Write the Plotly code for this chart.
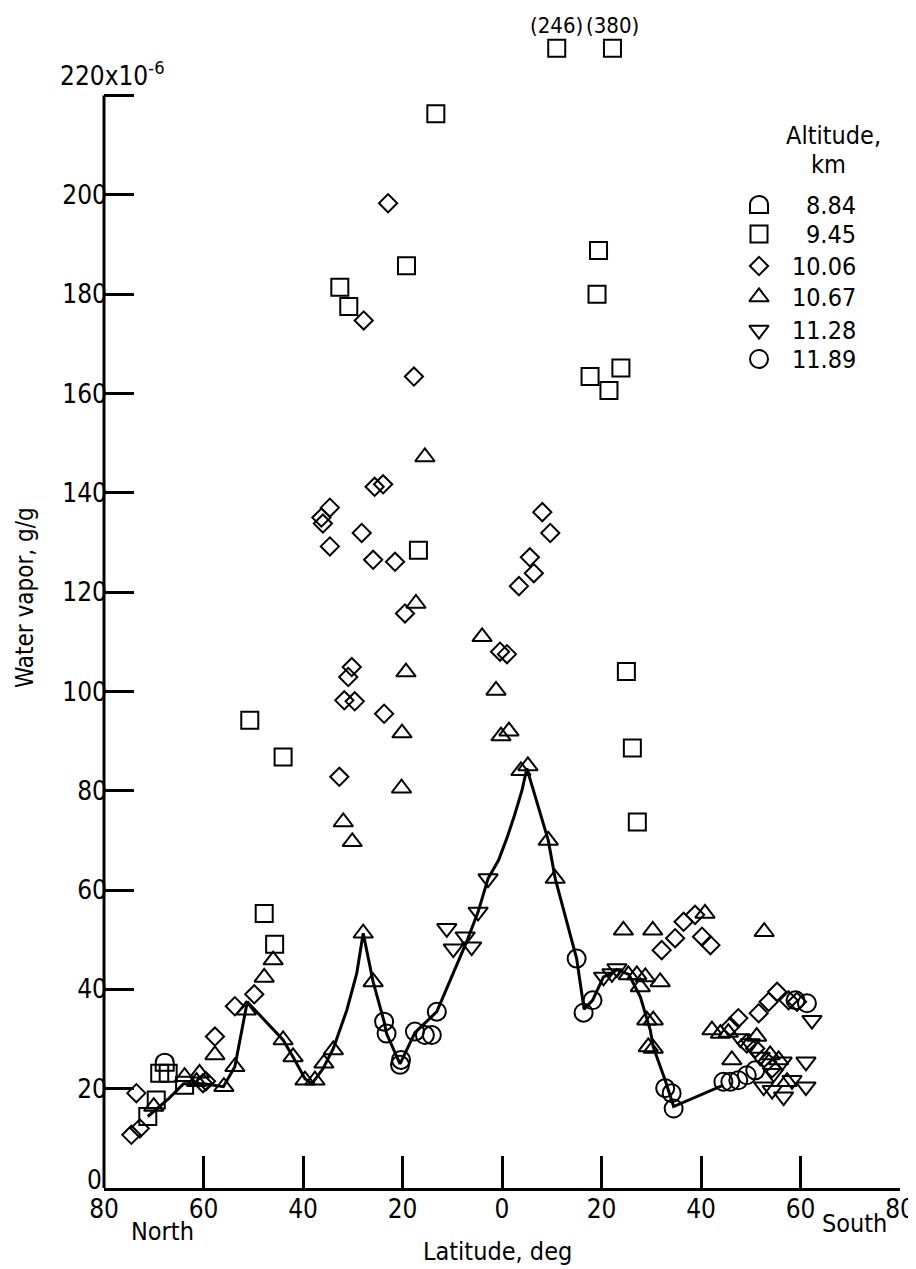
import plotly.graph_objects as go

# ---------------- data (latitude: negative = North, positive = South) ----------------
D884_LAT = [-67.8]
D884_VAL = [25.2]

S945_LAT = [-71.2, -69.5, -68.8, -67.1, -63.8, -47.8, -45.7, -50.7, -44.0, -32.6, -30.8, -19.2,
            -16.8, -13.3, 17.7, 19.1, 19.4, 21.5, 23.9, 25.0, 26.2, 27.2]
S945_VAL = [14.4, 17.7, 23.1, 23.1, 20.7, 55.3, 49.1, 94.2, 86.8, 181.4, 177.5, 185.7,
            128.4, 216.3, 163.4, 180.0, 188.8, 160.6, 165.1, 104.0, 88.6, 73.7]
# off-scale 9.45 km points
OFF_LAT = [11.0, 22.2]
OFF_VAL = [246, 380]
OFF_LABELS = ["(246)", "(380)"]

D1006_LAT = [-74.5, -72.8, -73.5, -60.1, -59.5, -57.7, -53.7, -49.8, -36.3, -36.0, -34.6, -34.6,
             -32.7, -31.7, -30.9, -30.2, -29.6, -28.2, -27.8, -25.9, -25.6, -23.9, -23.7, -22.9,
             -21.5, -19.5, -17.7, -0.4, 1.0, 3.4, 5.6, 6.4, 8.1, 9.7, 32.1, 34.8, 36.5, 38.8,
             40.2, 41.9, 45.9, 47.5, 49.2, 50.9, 51.6, 53.3, 53.6, 54.3, 55.3, 57.6, 59.3]
D1006_VAL = [10.7, 12.0, 19.1, 21.1, 21.5, 30.5, 36.6, 39.0, 135.0, 133.8, 137.0, 129.2,
             82.8, 98.2, 102.9, 104.9, 98.0, 131.9, 174.7, 126.5, 141.2, 141.7, 95.5, 198.3,
             126.1, 115.7, 163.4, 108.0, 107.5, 121.2, 127.0, 123.8, 136.1, 131.9, 47.9, 50.3, 53.6, 55.0,
             50.6, 48.9, 32.5, 34.2, 29.1, 28.1, 35.2, 25.4, 37.5, 24.1, 39.5, 37.8, 37.5]

T1067_LAT = [-70.0, -63.8, -61.4, -60.8, -57.7, -55.9, -53.7, -51.4, -47.8, -46.0, -44.0, -42.0,
             -39.6, -37.6, -35.8, -33.9, -31.9, -30.1, -27.9, -25.9, -20.2, -20.1, -19.3, -17.3,
             -15.5, -4.0, -1.2, -0.2, 1.4, 3.8, 5.2, 9.3, 10.7, 24.4, 25.4, 27.1, 28.8, 27.8,
             30.3, 31.8, 29.1, 30.4, 29.4, 30.4, 40.8, 52.7, 42.2, 43.9, 45.5, 46.2, 51.2, 53.9,
             55.6, 57.3]
T1067_VAL = [16.4, 22.4, 21.4, 23.1, 26.8, 20.4, 24.4, 35.8, 42.4, 45.9, 29.8, 26.4,
             21.7, 21.7, 25.1, 27.8, 73.7, 69.7, 51.3, 41.5, 80.5, 91.6, 103.9, 117.7,
             147.2, 111.0, 100.2, 91.0, 92.0, 84.0, 85.0, 70.0, 62.3, 51.9, 42.9, 42.9, 42.5, 40.5,
             51.9, 41.5, 33.8, 33.8, 28.4, 28.1, 55.3, 51.6, 31.8, 31.1, 31.3, 25.8, 30.5, 26.8,
             25.8, 21.4]

I1128_LAT = [-11.1, -9.8, -7.4, -6.1, -4.8, -2.8, 20.4, 22.1, 23.1, 47.9, 49.9, 51.9, 52.6,
             54.3, 54.6, 56.3, 56.6, 58.3, 61.1, 61.1, 62.3]
I1128_VAL = [52.3, 48.2, 50.6, 48.6, 55.6, 62.3, 42.5, 43.2, 44.2, 30.1, 29.1, 26.4, 20.4,
             19.7, 23.1, 25.4, 18.4, 21.7, 25.4, 20.4, 33.8]

C1189_LAT = [-23.7, -23.2, -20.5, -20.3, -17.5, -15.5, -14.1, -13.1, 15.0, 16.4, 18.2, 32.8,
             34.1, 34.5, 44.5, 45.9, 47.5, 49.2, 50.9, 59.0, 61.3]
C1189_VAL = [33.5, 31.1, 24.8, 25.8, 31.5, 30.8, 30.8, 35.5, 46.2, 35.3, 37.8, 20.1,
             19.1, 16.0, 21.4, 21.4, 21.7, 22.7, 23.7, 37.8, 37.2]

# faired curve
CURVE_LAT = [-71.2, -67.0, -64.0, -60.0, -56.0, -53.7, -51.2, -44.0, -42.0, -39.6, -38.2, -36.0,
             -33.9, -31.2, -29.2, -27.9, -25.9, -23.7, -23.2, -20.5, -17.5, -13.1, -7.1, -4.8,
             -2.8, -0.7, 1.0, 2.5, 4.0, 5.0, 9.3, 10.7, 15.0, 16.5, 18.2, 20.4, 22.1, 23.1, 25.5,
             27.8, 29.8, 30.4, 32.8, 34.5, 44.5]
CURVE_VAL = [14.4, 18.0, 21.0, 21.0, 20.4, 24.4, 37.5, 29.8, 26.4, 22.0, 21.0, 24.0,
             28.1, 35.8, 43.2, 51.3, 41.5, 33.5, 31.1, 25.0, 31.3, 35.5, 49.6, 55.6,
             62.3, 66.0, 70.5, 75.0, 80.0, 84.5, 70.0, 62.3, 46.2, 36.0, 37.8, 42.5, 43.2, 44.0, 43.0,
             38.5, 31.8, 28.4, 21.7, 16.4, 20.7]

LEGEND_LABELS = ["8.84", "9.45", "10.06", "10.67", "11.28", "11.89"]
X_TICKS = [-80, -60, -40, -20, 0, 20, 40, 60, 80]
Y_TICKS = [20, 40, 60, 80, 100, 120, 140, 160, 180, 200, 220]
Y_TOP = 220

# ---------------- figure ----------------
FONT = "Liberation Sans Narrow, DejaVu Sans Condensed, Arial Narrow, sans-serif"
BLACK = "#000000"
OFF_DISPLAY_Y = 229.5  # plotting position above the frame for off-scale values

# page frame (the html body adds an 8 px margin, so the figure is offset by it)
PAGE_OFF = 8
W, H = 916 - PAGE_OFF, 1269 - PAGE_OFF
L, R, T, B = 104, 900, 21, 1188   # page pixels of the plot frame

fig = go.Figure()

fig.add_trace(go.Scatter(x=CURVE_LAT, y=CURVE_VAL, mode="lines",
                         line=dict(color=BLACK, width=3), hoverinfo="skip"))

def pts(lat, val, symbol, size):
    fig.add_trace(go.Scatter(x=lat, y=val, mode="markers", cliponaxis=False,
                             marker=dict(symbol=symbol, size=size, color=BLACK,
                                         line=dict(color=BLACK, width=2))))

pts(S945_LAT, S945_VAL, "square-open", 17)
pts(D1006_LAT, D1006_VAL, "diamond-open", 14)
pts(T1067_LAT, T1067_VAL, "triangle-up-open", 17)
pts(I1128_LAT, I1128_VAL, "triangle-down-open", 17)
pts(C1189_LAT, C1189_VAL, "circle-open", 18)
pts(OFF_LAT, [OFF_DISPLAY_Y] * len(OFF_LAT), "square-open", 17)

DOME = "M -9,-8 L -9,0 C -9,12 9,12 9,0 L 9,-8 Z"
shapes = []
for la, va in zip(D884_LAT, D884_VAL):
    shapes.append(dict(type="path", xref="x", yref="y", xsizemode="pixel", ysizemode="pixel",
                       xanchor=la, yanchor=va, path=DOME,
                       line=dict(color=BLACK, width=2), fillcolor="rgba(0,0,0,0)"))

# y-axis spine from 0 to 220 only
shapes.append(dict(type="line", xref="paper", yref="y", x0=0, x1=0, y0=0, y1=Y_TOP,
                   line=dict(color=BLACK, width=3)))

annotations = []
for la, lab in zip(OFF_LAT, OFF_LABELS):
    annotations.append(dict(x=la, y=OFF_DISPLAY_Y, xref="x", yref="y", text=lab, showarrow=False,
                            xanchor="center", yanchor="middle", yshift=23,
                            font=dict(family=FONT, size=22, color=BLACK)))

# legend (overlay axes expressed in page pixels)
LEG_SYM_X = 759
LEG_TEXT_X = 858
LEG_Y = [205, 234, 266, 297, 330, 359]
LEG_SYMBOLS = [None, "square-open", "diamond-open", "triangle-up-open", "triangle-down-open", "circle-open"]
LEG_SIZES = [0, 17, 14, 17, 17, 18]
for ly, sym, sz in zip(LEG_Y[1:], LEG_SYMBOLS[1:], LEG_SIZES[1:]):
    fig.add_trace(go.Scatter(x=[LEG_SYM_X], y=[ly], xaxis="x2", yaxis="y2", mode="markers",
                             cliponaxis=False,
                             marker=dict(symbol=sym, size=sz, color=BLACK, line=dict(color=BLACK, width=2))))
shapes.append(dict(type="path", xref="x2", yref="y2", xsizemode="pixel", ysizemode="pixel",
                   xanchor=LEG_SYM_X, yanchor=LEG_Y[0], path=DOME,
                   line=dict(color=BLACK, width=2), fillcolor="rgba(0,0,0,0)"))
for ly, lab in zip(LEG_Y, LEGEND_LABELS):
    annotations.append(dict(x=LEG_TEXT_X, y=ly, xref="x2", yref="y2", text=lab, showarrow=False,
                            xanchor="right", yanchor="middle", font=dict(family=FONT, size=25, color=BLACK)))
annotations.append(dict(x=833, y=135, xref="x2", yref="y2", text="Altitude,", showarrow=False,
                        xanchor="center", yanchor="middle", font=dict(family=FONT, size=25, color=BLACK)))
annotations.append(dict(x=828, y=164, xref="x2", yref="y2", text="km", showarrow=False,
                        xanchor="center", yanchor="middle", font=dict(family=FONT, size=25, color=BLACK)))

# top y label with exponent, and the "0" label
annotations.append(dict(x=0, y=Y_TOP, xref="paper", yref="y", text="220x10<sup>-6</sup>", showarrow=False,
                        xanchor="center", yanchor="bottom", yshift=2, xshift=8,
                        font=dict(family=FONT, size=26, color=BLACK)))
annotations.append(dict(x=0, y=0, xref="paper", yref="y", text="0", showarrow=False,
                        xanchor="right", yanchor="middle", yshift=8, xshift=0,
                        font=dict(family=FONT, size=26, color=BLACK)))
# axis titles
annotations.append(dict(x=0, y=118.8, xref="paper", yref="y", text="Water vapor, g/g", showarrow=False,
                        textangle=-90, xanchor="center", yanchor="middle", xshift=-79,
                        font=dict(family=FONT, size=24, color=BLACK)))
annotations.append(dict(x=-1, y=0, xref="x", yref="paper", text="Latitude, deg", showarrow=False,
                        xanchor="center", yanchor="middle", yshift=-63,
                        font=dict(family=FONT, size=25, color=BLACK)))
# North / South
annotations.append(dict(x=-80, y=0, xref="x", yref="paper", text="North", showarrow=False,
                        xanchor="left", yanchor="middle", xshift=25, yshift=-43,
                        font=dict(family=FONT, size=25, color=BLACK)))
annotations.append(dict(x=80, y=0, xref="x", yref="paper", text="South", showarrow=False,
                        xanchor="right", yanchor="middle", xshift=-11, yshift=-35,
                        font=dict(family=FONT, size=25, color=BLACK)))

fig.update_layout(
    width=W, height=H,
    margin=dict(l=L - PAGE_OFF, r=916 - R, t=T - PAGE_OFF, b=1269 - B, autoexpand=False),
    paper_bgcolor="white", plot_bgcolor="white",
    showlegend=False,
    font=dict(family=FONT, size=26, color=BLACK),
    shapes=shapes, annotations=annotations,
    xaxis=dict(range=[-80, 80], tickvals=X_TICKS, ticktext=[str(abs(v)) for v in X_TICKS],
               ticks="inside", ticklen=32, tickwidth=2.5, tickcolor=BLACK, automargin=False,
               showline=True, linecolor=BLACK, linewidth=3, showgrid=False, zeroline=False,
               ticklabelstandoff=-4, tickfont=dict(family=FONT, size=26)),
    yaxis=dict(range=[0, 235], tickvals=Y_TICKS, ticktext=[str(v) for v in Y_TICKS[:-1]] + [" "],
               ticks="inside", ticklen=30, tickwidth=2.5, tickcolor=BLACK, automargin=False,
               showline=False, showgrid=False, zeroline=False,
               ticklabelstandoff=-4, tickfont=dict(family=FONT, size=26)),
    xaxis2=dict(range=[L, R], overlaying="x", visible=False, fixedrange=True),
    yaxis2=dict(range=[B, T], overlaying="y", visible=False, fixedrange=True),
)

fig.write_html("out.html")
